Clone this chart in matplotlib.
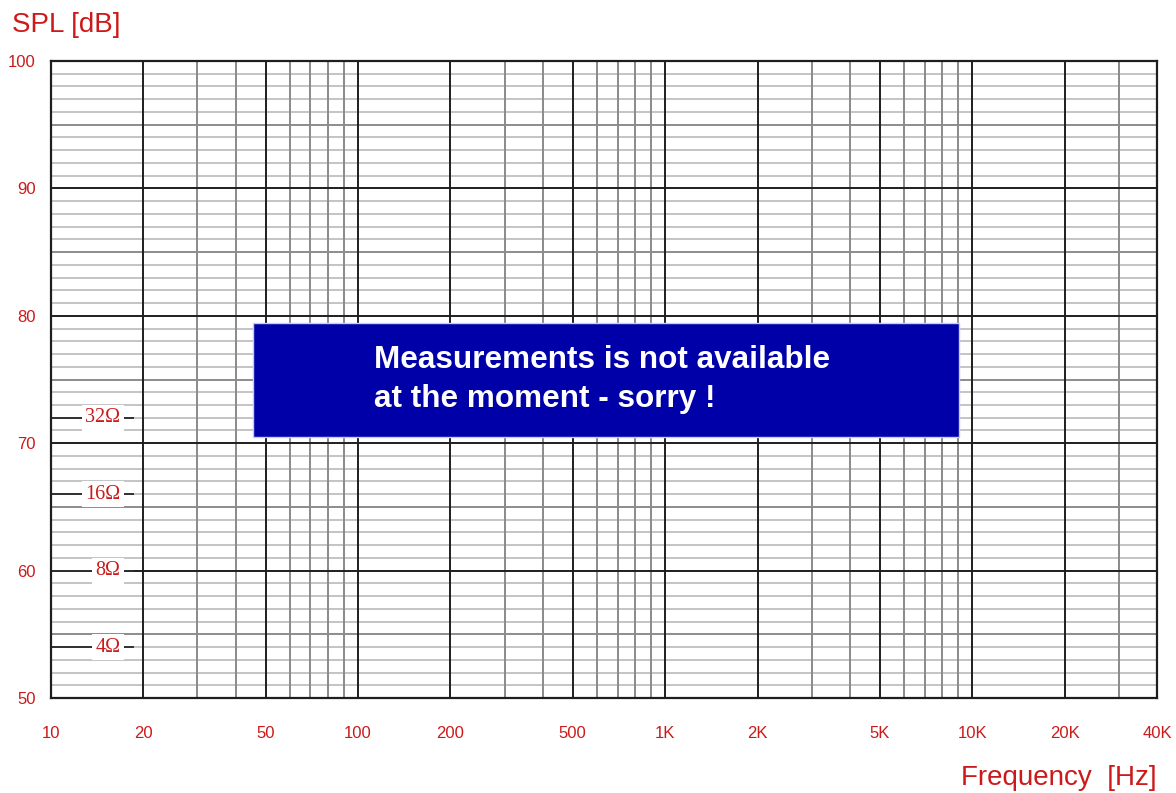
import matplotlib.pyplot as plt
import numpy as np

# axis ranges and tick labels
x_ticks = [10, 20, 50, 100, 200, 500, 1000, 2000, 5000, 10000, 20000, 40000]
x_labels = ['10', '20', '50', '100', '200', '500', '1K', '2K', '5K', '10K', '20K', '40K']
y_ticks = [50, 60, 70, 80, 90, 100]
major_freqs = [10, 20, 50, 100, 200, 500, 1000, 2000, 5000, 10000, 20000]
minor_freqs = [30, 40, 60, 70, 80, 90, 300, 400, 600, 700, 800, 900,
               3000, 4000, 6000, 7000, 8000, 9000, 30000]
# impedance scale marks on the left (label, dB level)
ohm_labels = ['32Ω', '16Ω', '8Ω', '4Ω']
ohm_levels = [72, 66, 60, 54]

RED = '#cc1a1a'

fig = plt.figure(figsize=(11.76, 7.93), dpi=100)
ax = fig.add_axes([51 / 1176, 95 / 793, 1106 / 1176, 637 / 793])
ax.set_xscale('log')
ax.set_xlim(10, 40000)
ax.set_ylim(50, 100)

# horizontal grid: 1 dB light, 5 dB mid, 10 dB dark
for db in range(51, 100):
    if db % 10 == 0:
        c, z = '#1e1e1e', 3
    elif db % 5 == 0:
        c, z = '#8c8c8c', 2
    else:
        c, z = '#c4c4c4', 1
    ax.axhline(db, color=c, lw=1.4, zorder=z)

# vertical grid
for f in minor_freqs:
    ax.axvline(f, color='#8a8a8a', lw=1.4, zorder=2)
for f in major_freqs[1:]:
    ax.axvline(f, color='#1e1e1e', lw=1.4, zorder=3)

for s in ax.spines.values():
    s.set_color('#1e1e1e')
    s.set_linewidth(1.6)
    s.set_zorder(4)

ax.set_xticks(x_ticks)
ax.set_xticklabels(x_labels)
ax.set_xticks([], minor=True)
ax.set_yticks(y_ticks)
ax.tick_params(axis='both', length=0, colors=RED, labelsize=12)
ax.tick_params(axis='x', pad=20)
ax.tick_params(axis='y', pad=11)
for lab in ax.get_xticklabels() + ax.get_yticklabels():
    lab.set_family('Liberation Sans')

# impedance marks
for lab, lvl in zip(ohm_labels, ohm_levels):
    ax.plot([10, 18.5], [lvl, lvl], color='#303030', lw=1.4, zorder=3.5)
    ax.text(16.8, lvl, lab, ha='right', va='center', color=RED, fontsize=14.5,
            family=['Liberation Serif', 'DejaVu Sans'], zorder=5,
            bbox=dict(facecolor='white', edgecolor='none', pad=2.5))

# notice box
ax.fill_between([45.4, 9074], 70.5, 79.4, facecolor='#0000a8', edgecolor='#c8c8ff',
                lw=1, zorder=6)
ax.text(113, 75, 'Measurements is not available\nat the moment - sorry !',
        ha='left', va='center', color='white',
        fontsize=22.7, fontweight='bold', family='Liberation Sans',
        linespacing=1.42, zorder=7)

fig.text(12 / 1176, 1 - 25 / 793, 'SPL [dB]', ha='left', va='center', color=RED,
         fontsize=20, family='Liberation Sans')
fig.text(1157 / 1176, 1 - 778 / 793, 'Frequency  [Hz]', ha='right', va='center',
         color=RED, fontsize=20, family='Liberation Sans')

fig.savefig('out.png', dpi=100, facecolor='white')
